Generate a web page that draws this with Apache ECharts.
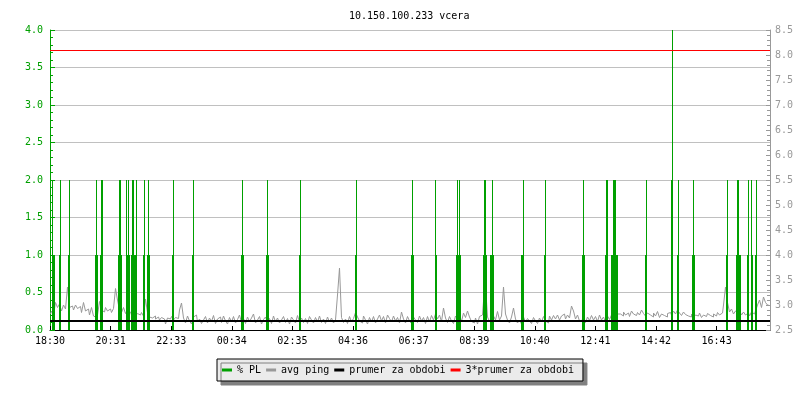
<!DOCTYPE html>
<html>
<head>
<meta charset="utf-8">
<script src="https://cdn.jsdelivr.net/npm/echarts@6/dist/echarts.min.js"></script>
<style>html,body{margin:0;padding:0;background:#fff}#c{width:800px;height:400px}</style>
</head>
<body>
<div id="c"></div>
<script>
// ---- data ----
var titleText = '10.150.100.233 vcera';
var xTickLabels = ['18:30','20:31','22:33','00:34','02:35','04:36','06:37','08:39','10:40','12:41','14:42','16:43'];
var xTickStepMin = 121.2;   // minutes between time labels
var spanMin = 1440;         // 24 hours shown
// packet loss spikes [minute from 18:30, % PL]
var plSpikes = [[5,2],[20,2],[38,2],[92,2],[103,2],[105,2],[139,2],[141,2],[152,2],[156,2],[165,2],[167,2],[172,2],[188,2],[197,2],[246,2],[286,2],[384,2],[434,2],[500,2],[612,2],[724,2],[770,2],[815,2],[818,2],[869,2],[871,2],[884,2],[946,2],[990,2],[1067,2],[1112,2],[1114,2],[1126,2],[1129,2],[1131,2],[1192,2],[1243,2],[1245,4],[1256,2],[1286,2],[1354,2],[1375,2],[1377,2],[1396,2],[1402,2],[1412,2]];
// packet loss level-1 periods [from minute, to minute, % PL]
var plBlocks = [[6,10,1],[18,22,1],[36,40,1],[91,95,1],[101,105,1],[137,143,1],[152,160,1],[163,173,1],[186,190,1],[195,199,1],[244,248,1],[284,288,1],[382,387,1],[433,438,1],[498,502,1],[610,614,1],[723,727,1],[770,773,1],[812,822,1],[867,874,1],[881,887,1],[943,947,1],[988,992,1],[1065,1069,1],[1110,1114,1],[1122,1135,1],[1190,1194,1],[1242,1246,1],[1254,1258,1],[1285,1289,1],[1352,1356,1],[1372,1381,1],[1394,1397,1],[1402,1405,1],[1410,1414,1]];
// avg ping, one sample every 4 minutes (right axis)
var pingStartMin = 1;
var pingStepMin = 4;
var avgPing = [
2.82,2.88,2.80,3.05,2.95,3.02,2.88,3.0,2.92,3.36,
2.95,2.98,2.9,3.0,2.93,2.97,2.85,3.05,2.88,2.92,
2.8,2.95,2.78,2.75,2.8,3.07,2.9,2.86,2.95,2.88,
2.92,2.85,2.93,3.33,3.1,2.9,2.85,2.95,2.83,2.9,
2.86,2.8,2.84,2.78,2.83,2.8,2.85,2.78,3.12,2.85,
2.76,2.74,2.78,2.72,2.76,2.7,2.75,2.72,2.62,2.74,
2.72,2.77,2.7,2.75,2.73,2.9,3.04,2.74,2.64,2.78,
2.68,2.62,2.76,2.8,2.66,2.72,2.63,2.7,2.77,2.64,
2.74,2.67,2.79,2.63,2.72,2.76,2.65,2.78,2.68,2.62,
2.75,2.66,2.77,2.64,2.71,2.8,2.65,2.73,2.63,2.76,
2.67,2.74,2.82,2.64,2.7,2.77,2.62,2.71,2.76,2.65,
2.73,2.63,2.78,2.66,2.74,2.64,2.7,2.77,2.65,2.73,
2.62,2.76,2.7,2.64,2.79,2.66,2.74,2.65,2.73,2.63,
2.77,2.7,2.64,2.75,2.66,2.78,2.65,2.72,2.63,2.76,
2.66,2.74,2.64,2.7,3.2,3.74,2.75,2.65,2.72,2.63,
2.77,2.66,2.73,2.85,2.76,2.68,2.64,2.78,2.7,2.62,
2.75,2.66,2.77,2.64,2.72,2.8,2.68,2.77,2.64,2.8,
2.73,2.66,2.78,2.68,2.75,2.64,2.86,2.72,2.64,2.77,
2.68,2.63,2.76,2.7,2.65,2.78,2.68,2.75,2.63,2.77,
2.66,2.79,2.7,2.82,2.72,2.8,2.67,2.94,2.74,2.65,
2.77,2.68,2.63,2.78,2.72,2.8,2.67,2.84,2.75,2.88,
2.76,2.67,2.64,2.74,2.62,2.77,2.8,3.07,3.39,2.76,
2.67,2.64,2.78,2.7,2.87,2.7,2.78,3.36,2.82,2.7,
2.64,2.76,2.94,2.72,2.64,2.7,2.62,2.76,2.66,2.73,
2.68,2.63,2.75,2.68,2.63,2.74,2.66,2.77,2.68,2.64,
2.78,2.7,2.79,2.72,2.8,2.7,2.78,2.82,2.72,2.8,
2.74,2.98,2.88,2.72,2.8,2.68,2.7,2.78,2.65,2.76,
2.69,2.79,2.7,2.77,2.67,2.8,2.7,2.76,2.66,2.78,
2.71,2.8,2.69,2.76,2.82,2.82,2.78,2.86,2.8,2.84,
2.77,2.88,2.82,2.79,2.85,2.8,2.9,2.83,2.78,2.84,
2.8,2.76,2.84,2.78,2.87,2.75,2.82,2.79,2.76,2.83,
2.85,2.8,2.88,2.82,2.9,2.84,2.79,2.86,2.81,2.78,
2.76,2.82,2.74,2.8,2.78,2.84,2.75,2.8,2.77,2.83,
2.79,2.76,2.82,2.78,2.85,2.8,2.84,3.0,3.36,3.05,
2.86,2.92,2.82,2.88,2.84,2.9,2.8,2.86,2.8,2.84,
2.78,2.86,2.82,2.88,3.0,3.1,2.95,3.16,3.05,3.0
];
var periodAvg = 2.7;
var periodAvg3 = 8.1;
var leftMin = 0, leftMax = 4, leftStep = 0.5;
var rightMin = 2.5, rightMax = 8.5, rightStep = 0.5;

// ---- chart ----
var GREEN = '#00a000', GREY = '#999999', FONT = 'DejaVu Sans Mono';
var chart = echarts.init(document.getElementById('c'), null, {renderer: 'canvas'});
var pingData = avgPing.map(function (v, i) { return [pingStartMin + i * pingStepMin, v]; });

function ruleSeries(name, value, color, thick, z) {
  return {
    name: name, type: 'custom', yAxisIndex: 1,
    data: [[0, spanMin, value]], encode: {x: [0, 1], y: 2},
    itemStyle: {color: color}, z: z, clip: true,
    renderItem: function (params, api) {
      var a = api.coord([api.value(0), api.value(2)]);
      var b = api.coord([api.value(1), api.value(2)]);
      return {type: 'rect', shape: {x: a[0], y: Math.round(a[1]), width: b[0] - a[0], height: thick},
        style: {fill: color}};
    }
  };
}

var option = {
  animation: false,
  backgroundColor: '#ffffff',
  textStyle: {fontFamily: FONT},
  title: {
    text: titleText, left: 344, top: 6,
    textStyle: {fontFamily: FONT, fontSize: 10, fontWeight: 'normal', color: '#000'}
  },
  grid: {left: 50, right: 30, top: 30, bottom: 70, containLabel: false},
  legend: {
    left: 217, top: 359,
    padding: [6, 9, 6, 5],
    itemGap: 5, itemWidth: 10, itemHeight: 3,
    icon: 'rect',
    data: ['% PL', 'avg ping', 'prumer za obdobi', '3*prumer za obdobi'],
    textStyle: {fontFamily: FONT, fontSize: 10, color: '#000'},
    backgroundColor: '#ebebeb', borderColor: '#000', borderWidth: 1, borderRadius: 0,
    shadowColor: '#808080', shadowBlur: 0, shadowOffsetX: 4, shadowOffsetY: 4
  },
  xAxis: {
    type: 'value', min: 0, max: spanMin, interval: xTickStepMin,
    axisLine: {show: true, lineStyle: {color: '#000', width: 1}},
    axisTick: {show: true, inside: true, length: 4, lineStyle: {color: '#000'}},
    axisLabel: {
      fontFamily: FONT, fontSize: 10, color: '#000', margin: 6,
      showMaxLabel: false,
      formatter: function (v) {
        var k = Math.round(v / xTickStepMin);
        if (Math.abs(v - k * xTickStepMin) > 1 || k < 0 || k >= xTickLabels.length) return '';
        return xTickLabels[k];
      }
    },
    splitLine: {show: false}
  },
  yAxis: [{
    type: 'value', min: leftMin, max: leftMax, interval: leftStep, position: 'left',
    axisLine: {show: true, lineStyle: {color: GREEN, width: 1}},
    axisTick: {show: true, inside: true, length: 5, lineStyle: {color: GREEN}},
    minorTick: {show: true, splitNumber: 5, length: 3, lineStyle: {color: GREEN}},
    axisLabel: {fontFamily: FONT, fontSize: 10, color: GREEN, margin: 7,
      formatter: function (v) { return v.toFixed(1); }},
    splitLine: {show: true, lineStyle: {color: '#c0c0c0', width: 1}}
  }, {
    type: 'value', min: rightMin, max: rightMax, interval: rightStep, position: 'right',
    axisLine: {show: true, lineStyle: {color: GREY, width: 1}},
    axisTick: {show: true, inside: true, length: 4, lineStyle: {color: GREY}},
    minorTick: {show: true, splitNumber: 5, length: 3, lineStyle: {color: GREY}},
    axisLabel: {fontFamily: FONT, fontSize: 10, color: GREY, margin: 5,
      formatter: function (v) { return v.toFixed(1); }},
    splitLine: {show: false}
  }],
  series: [{
    name: 'avg ping', type: 'line', yAxisIndex: 1, data: pingData,
    showSymbol: false, symbol: 'none', step: 'middle',
    lineStyle: {color: GREY, width: 1}, itemStyle: {color: GREY}, z: 2
  }, {
    name: '% PL', type: 'custom', yAxisIndex: 0, data: plSpikes,
    encode: {x: 0, y: 1},
    itemStyle: {color: GREEN}, z: 3, clip: true,
    renderItem: function (params, api) {
      var top = api.coord([api.value(0), api.value(1)]);
      var base = api.coord([api.value(0), 0]);
      return {type: 'rect', shape: {x: Math.floor(top[0]), y: top[1], width: 1, height: base[1] - top[1]},
        style: {fill: GREEN}};
    }
  }, {
    name: '% PL', type: 'custom', yAxisIndex: 0, data: plBlocks,
    encode: {x: [0, 1], y: 2},
    itemStyle: {color: GREEN}, z: 3, clip: true,
    renderItem: function (params, api) {
      var a = api.coord([api.value(0), api.value(2)]);
      var b = api.coord([api.value(1), 0]);
      var x0 = Math.floor(a[0]), x1 = Math.max(x0 + 1, Math.round(b[0]));
      return {type: 'rect', shape: {x: x0, y: a[1], width: x1 - x0, height: b[1] - a[1]},
        style: {fill: GREEN}};
    }
  },
  ruleSeries('prumer za obdobi', periodAvg, '#000000', 2, 4),
  ruleSeries('3*prumer za obdobi', periodAvg3, '#ff0000', 1, 5)
  ]
};
chart.setOption(option);
</script>
</body>
</html>
